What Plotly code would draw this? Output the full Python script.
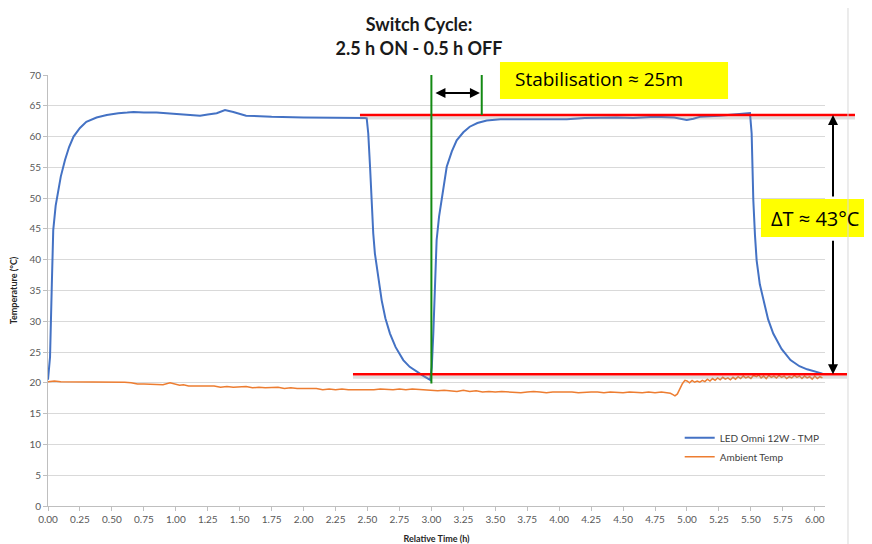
import plotly.graph_objects as go

# ---------------- data ----------------
led_time = [0.00, 0.008, 0.016, 0.03, 0.041, 0.06, 0.08, 0.10, 0.133, 0.165, 0.20, 0.25, 0.30,
            0.38, 0.46, 0.55, 0.62, 0.67, 0.75, 0.85, 0.98, 1.10, 1.19, 1.25, 1.32, 1.385,
            1.45, 1.55, 1.75, 2.00, 2.25, 2.48, 2.494, 2.506, 2.52, 2.533, 2.545, 2.558,
            2.572, 2.59, 2.611, 2.64, 2.676, 2.72, 2.78, 2.83, 2.885, 2.94, 2.99, 3.003,
            3.015, 3.028, 3.041, 3.06, 3.08, 3.10, 3.12, 3.16, 3.198, 3.25, 3.30, 3.36,
            3.433, 3.54, 3.64, 3.77, 3.90, 4.06, 4.20, 4.32, 4.45, 4.58, 4.75, 4.90, 4.998,
            5.05, 5.10, 5.25, 5.36, 5.45, 5.493, 5.506, 5.519, 5.532, 5.545, 5.57, 5.597,
            5.635, 5.675, 5.74, 5.81, 5.88, 5.94, 6.00, 6.04, 6.06]
led_temp = [20.5, 22.0, 24.2, 36.0, 44.8, 48.8, 51.3, 53.5, 56.2, 58.3, 60.0, 61.4, 62.4,
            63.1, 63.5, 63.8, 63.9, 64.0, 63.9, 63.9, 63.7, 63.5, 63.4, 63.6, 63.8, 64.3,
            64.0, 63.4, 63.2, 63.1, 63.1, 63.0, 62.96, 60.5, 55.1, 48.5, 44.3, 41.0,
            38.8, 36.0, 33.4, 30.5, 28.0, 25.8, 23.7, 22.6, 21.8, 21.1, 20.5, 22.5,
            28.0, 36.1, 43.2, 47.0, 49.7, 52.5, 55.1, 57.6, 59.4, 60.7, 61.6, 62.2,
            62.6, 62.8, 62.8, 62.8, 62.9, 62.8, 63.0, 63.1, 63.1, 63.0, 63.2, 63.1, 62.7,
            62.9, 63.2, 63.4, 63.6, 63.7, 63.8, 60.5, 49.7, 44.0, 39.9, 36.0, 33.4,
            30.3, 28.0, 25.5, 23.7, 22.7, 22.2, 21.8, 21.6, 21.5]

amb_time = [0.00, 0.05, 0.10, 0.15, 0.20, 0.25, 0.30, 0.35, 0.40, 0.45, 0.50, 0.55, 0.60,
            0.65, 0.70, 0.75, 0.80, 0.85, 0.90, 0.955, 0.99, 1.03, 1.06, 1.10, 1.15, 1.20,
            1.25, 1.30, 1.35, 1.40, 1.45, 1.50, 1.55, 1.60, 1.65, 1.70, 1.75, 1.80, 1.85,
            1.90, 1.95, 2.00, 2.05, 2.10, 2.15, 2.20, 2.25, 2.30, 2.35, 2.40, 2.45, 2.50,
            2.55, 2.60, 2.65, 2.70, 2.75, 2.80, 2.85, 2.90, 2.95, 3.00, 3.05, 3.10, 3.15,
            3.20, 3.25, 3.30, 3.35, 3.40, 3.45, 3.50, 3.55, 3.60, 3.65, 3.70, 3.75, 3.80,
            3.85, 3.90, 3.95, 4.00, 4.05, 4.10, 4.15, 4.20, 4.25, 4.30, 4.35, 4.40, 4.45,
            4.50, 4.55, 4.60, 4.65, 4.70, 4.75, 4.80, 4.84, 4.87, 4.89, 4.906, 4.925,
            4.945, 4.965, 4.984, 5.00, 5.02, 5.04, 5.06, 5.08, 5.10, 5.12, 5.14, 5.16,
            5.18, 5.20, 5.22, 5.24, 5.26, 5.28, 5.30, 5.32, 5.34, 5.36, 5.38, 5.40, 5.42,
            5.44, 5.46, 5.48, 5.50, 5.52, 5.545, 5.56, 5.58, 5.60, 5.62, 5.64, 5.66, 5.68,
            5.70, 5.72, 5.74, 5.76, 5.78, 5.80, 5.82, 5.84, 5.86, 5.88, 5.90, 5.92, 5.94,
            5.96, 5.98, 6.00, 6.02, 6.04, 6.06]
amb_temp = [20.2, 20.3, 20.2, 20.2, 20.1, 20.2, 20.2, 20.1, 20.2, 20.2, 20.1, 20.2, 20.1,
            20.0, 19.8, 19.8, 19.8, 19.7, 19.7, 20.0, 19.8, 19.6, 19.7, 19.5, 19.5, 19.5,
            19.4, 19.5, 19.3, 19.4, 19.3, 19.3, 19.4, 19.2, 19.3, 19.2, 19.2, 19.3, 19.1,
            19.2, 19.1, 19.1, 19.0, 19.1, 18.9, 19.0, 18.9, 19.0, 18.9, 18.9, 18.8, 18.9,
            18.9, 19.0, 18.9, 18.9, 19.0, 18.9, 19.0, 18.9, 18.8, 18.7, 18.7, 18.8, 18.7,
            18.6, 18.8, 18.6, 18.7, 18.5, 18.6, 18.5, 18.6, 18.5, 18.5, 18.4, 18.5, 18.6,
            18.5, 18.4, 18.5, 18.5, 18.6, 18.5, 18.4, 18.5, 18.5, 18.5, 18.4, 18.5, 18.4,
            18.4, 18.5, 18.4, 18.4, 18.5, 18.4, 18.5, 18.4, 18.3, 18.1, 17.9, 18.2,
            19.1, 19.9, 20.4, 20.3, 20.0, 20.4, 20.1, 20.3, 20.1, 20.4, 20.2, 20.6,
            20.3, 20.7, 20.4, 20.8, 20.5, 20.9, 20.6, 20.8, 20.5, 20.9, 20.6, 21.0, 20.7,
            21.1, 20.8, 21.0, 20.7, 21.2, 21.0, 21.3, 20.8, 21.1, 20.7, 21.2, 20.9, 21.1,
            20.8, 21.2, 20.9, 21.1, 20.7, 21.0, 20.8, 21.2, 20.9, 21.1, 20.7, 21.1, 20.8,
            21.0, 20.6, 21.1, 20.7, 21.0, 20.8]

x_ticks = [0.00, 0.25, 0.50, 0.75, 1.00, 1.25, 1.50, 1.75, 2.00, 2.25, 2.50, 2.75, 3.00,
           3.25, 3.50, 3.75, 4.00, 4.25, 4.50, 4.75, 5.00, 5.25, 5.50, 5.75, 6.00]
y_ticks = [0, 5, 10, 15, 20, 25, 30, 35, 40, 45, 50, 55, 60, 65, 70]

X_MAX = 6.08
Y_MAX = 70

# annotation levels
top_level = 63.5
bottom_level = 21.4
switch_on = 3.0
stable_at = 3.394

# ---------------- figure ----------------
fig = go.Figure()
fig.add_trace(go.Scatter(x=led_time, y=led_temp, mode="lines", name="LED Omni 12W - TMP",
                         line=dict(color="#4472C4", width=2)))
fig.add_trace(go.Scatter(x=amb_time, y=amb_temp, mode="lines", name="Ambient Temp",
                         line=dict(color="#ED7D31", width=1.5)))

def px(t):
    return t / X_MAX

def py(v):
    return v / Y_MAX

shapes = []
# red level lines with soft shadow
for lvl, x0, x1 in [(top_level, 0.4015, 1.0386), (bottom_level, 0.3925, 1.0283)]:
    shapes.append(dict(type="line", xref="paper", yref="paper", x0=x0, x1=x1,
                       y0=py(lvl - 0.5), y1=py(lvl - 0.5),
                       line=dict(color="rgba(150,150,150,0.3)", width=3)))
    shapes.append(dict(type="line", xref="paper", yref="paper", x0=x0, x1=x1,
                       y0=py(lvl), y1=py(lvl), line=dict(color="#FF0000", width=2.5)))
# green vertical lines
shapes.append(dict(type="line", xref="paper", yref="paper", x0=px(switch_on), x1=px(switch_on),
                   y0=py(19.9), y1=py(70), line=dict(color="#138A13", width=2)))
shapes.append(dict(type="line", xref="paper", yref="paper", x0=px(stable_at), x1=px(stable_at),
                   y0=py(top_level), y1=py(70), line=dict(color="#138A13", width=2)))
# yellow boxes
shapes.append(dict(type="rect", xref="paper", yref="paper", x0=0.5817, x1=0.8752,
                   y0=0.9443, y1=1.0302, fillcolor="#FFFF00", line=dict(width=0)))
shapes.append(dict(type="rect", xref="paper", yref="paper", x0=0.9176, x1=1.0605,
                   y0=0.6239, y1=0.7121, fillcolor="#FFFF00", line=dict(width=0)))
# chart border on the right
shapes.append(dict(type="line", xref="paper", yref="paper", x0=1.0296, x1=1.0296,
                   y0=-0.1, y1=1.2, line=dict(color="#D9D9D9", width=1)))

annotations = [
    dict(x=3.38, y=67.07, ax=3.02, ay=67.07, xref="x", yref="y", axref="x", ayref="y",
         text="", showarrow=True, arrowside="end+start", arrowhead=2, arrowsize=1,
         arrowwidth=2, arrowcolor="black", standoff=0, startstandoff=0),
    dict(x=1.0103, y=top_level, xref="paper", yref="y", ax=0, ay=83, text="",
         showarrow=True, arrowhead=2, arrowsize=1, arrowwidth=2, arrowcolor="black", standoff=0),
    dict(x=1.0103, y=bottom_level, xref="paper", yref="y", ax=0, ay=-135, text="",
         showarrow=True, arrowhead=2, arrowsize=1, arrowwidth=2, arrowcolor="black", standoff=0),
    dict(x=0.5985, y=0.990, xref="paper", yref="paper", xanchor="left", yanchor="middle",
         text="Stabilisation ≈ 25m", showarrow=False,
         font=dict(family="Open Sans", size=19, color="black")),
    dict(x=0.9285, y=0.668, xref="paper", yref="paper", xanchor="left", yanchor="middle",
         text="ΔT ≈ 43°C", showarrow=False,
         font=dict(family="Open Sans", size=20, color="black")),
]

# the page body has an 8px margin, so the figure is 8px smaller and margins shifted
fig.update_layout(
    width=864, height=536,
    margin=dict(l=40, r=47, t=67, b=38),
    paper_bgcolor="white", plot_bgcolor="white",
    title=dict(text="Switch Cycle:<br>2.5 h ON - 0.5 h OFF", x=0.4757, xanchor="center",
               yref="container", y=0.9567, yanchor="middle",
               font=dict(family="Lato", size=18, color="#1a1a1a", weight="bold")),
    font=dict(family="Lato", size=10, color="#595959"),
    showlegend=True,
    legend=dict(x=0.813, y=0.192, xanchor="left", yanchor="top", bgcolor="rgba(0,0,0,0)",
                font=dict(family="Lato", size=10, color="#404040"), tracegroupgap=4),
    shapes=shapes,
    annotations=annotations,
    xaxis=dict(range=[0, X_MAX], tickvals=x_ticks, ticktext=[f"{v:.2f}" for v in x_ticks],
               showgrid=False, zeroline=False, showline=True, linecolor="#BFBFBF",
               ticks="outside", ticklen=4, tickcolor="#BFBFBF", automargin=False,
               tickfont=dict(family="Lato", size=10, color="#595959"),
               title=dict(text="<b>Relative Time (h)</b>",
                          font=dict(family="Lato", size=9, color="#262626"))),
    yaxis=dict(range=[0, Y_MAX], tickvals=y_ticks, showgrid=True, gridcolor="#D9D9D9",
               gridwidth=1, zeroline=False, showline=True, linecolor="#BFBFBF",
               ticks="outside", ticklen=4, tickcolor="#BFBFBF", automargin=False,
               tickfont=dict(family="Lato", size=10, color="#595959"),
               title=dict(text="<b>Temperature (°C)</b>",
                          font=dict(family="Lato", size=9, color="#262626"))),
)

fig.write_html("out.html")
